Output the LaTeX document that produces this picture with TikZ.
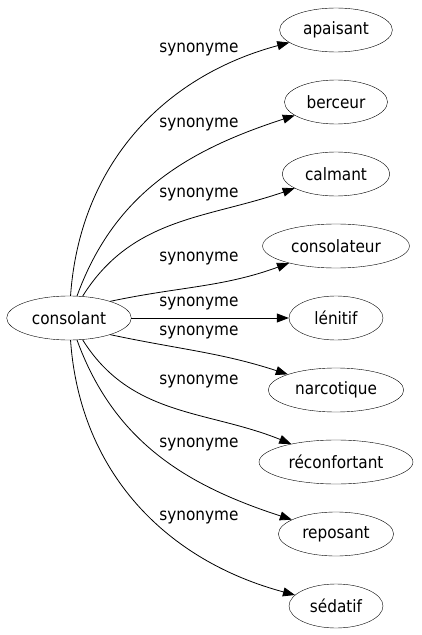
\documentclass[tikz,border=0pt]{standalone}
\usepackage{fontspec}
\setmainfont{DejaVu Sans Condensed}
\usetikzlibrary{arrows.meta,positioning,shapes.geometric}

\begin{document}
\begin{tikzpicture}[
		x=1pt, y=1pt,
		font=\fontsize{17}{20}\selectfont,
		word/.style={
			draw,
			ellipse,
			inner xsep=7pt,
			minimum height=44pt,
			minimum width=94pt,
			node distance=72pt,
		},
		syn/.style={
			line width=.8pt,
			-{Triangle[length=12pt,width=9pt]},
		},
		lbl/.style={
			inner sep=0pt,
		}
	]
	\useasboundingbox (-69,-317) rectangle (352,318);

	\node[word](cons){consolant};
	\coordinate[right of=cons, node distance=267pt](col);
	\node[word, above of=col, node distance=288pt](apa){apaisant};
	\node[word, below of=apa](ber){berceur};
	\node[word, below of=ber](cal){calmant};
	\node[word, below of=cal](conso){consolateur};
	\node[word, below of=conso](len){lénitif};
	\node[word, below of=len](nar){narcotique};
	\node[word, below of=nar](rec){réconfortant};
	\node[word, below of=rec](rep){reposant};
	\node[word, below of=rep](sed){sédatif};

	\node[lbl] (l1) at (130,268) {synonyme};
	\node[lbl] (l2) at (130,193) {synonyme};
	\node[lbl] (l3) at (130,123) {synonyme};
	\node[lbl] (l4) at (130,59) {synonyme};
	\node[lbl] (l5) at (130,14) {synonyme};
	\node[lbl] (l6) at (130,-15) {synonyme};
	\node[lbl] (l7) at (130,-64) {synonyme};
	\node[lbl] (l8) at (130,-127) {synonyme};
	\node[lbl] (l9) at (130,-200) {synonyme};

	\draw[syn] (cons) to[out=86,in=195] (apa);
	\draw[syn] (cons) to[out=70,in=198] (ber);
	\draw[syn] (cons) to[out=58,in=199] (cal);
	\draw[syn] (cons.22) to[out=12,in=200] (conso);
	\draw[syn] (cons) -- (len);
	\draw[syn] (cons.-22) to[out=-12,in=162] (nar);
	\draw[syn] (cons) to[out=-58,in=158] (rec);
	\draw[syn] (cons) to[out=-70,in=162] (rep);
	\draw[syn] (cons) to[out=-86,in=165] (sed);

\end{tikzpicture}
\end{document}
